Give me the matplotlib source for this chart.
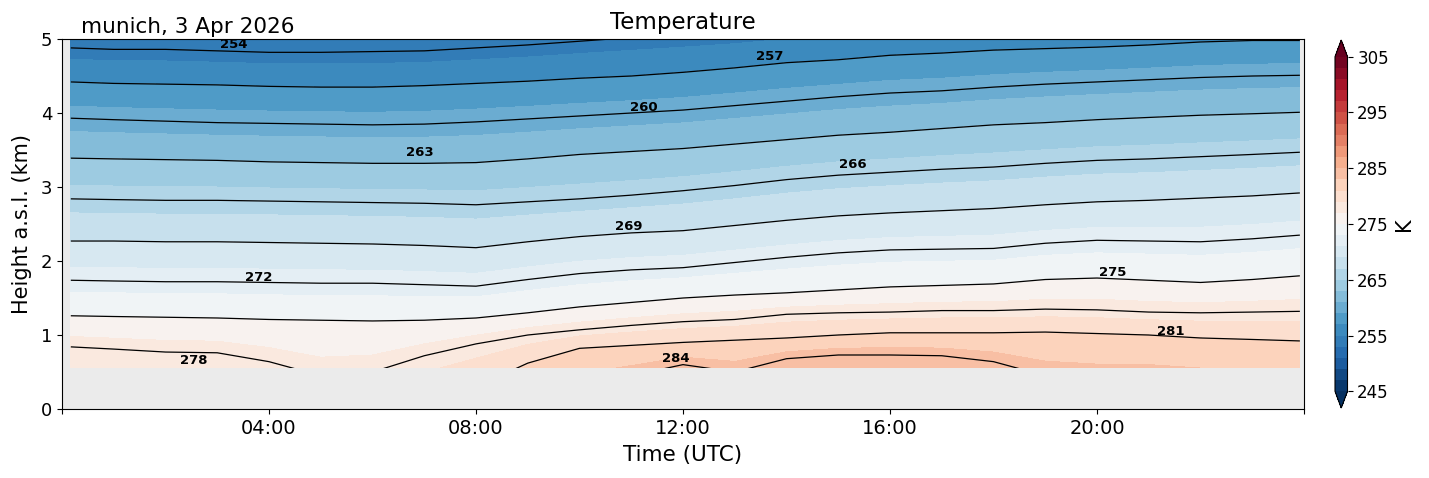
import numpy as np
import matplotlib
matplotlib.use("Agg")
import matplotlib.pyplot as plt
from matplotlib.ticker import FuncFormatter, MultipleLocator

# ---- data -------------------------------------------------------------------
# sample times (hours UTC)
times = [0.17, 1, 2, 3, 4, 5, 6, 7, 8, 9, 10, 11, 12, 13, 14, 15, 16, 17, 18,
         19, 20, 21, 22, 23, 23.92]

# height (km) of each isotherm at the sample times (values outside the
# visible data window are estimates)
h287 = [-1.5, -1.5, -1.5, -1.5, -1.5, -1.5, -1.5, -1.5, -1.5, -0.8, -0.4, -0.1,
        0.05, 0.0, 0.1, 0.15, 0.15, 0.1, 0.0, -0.2, -0.3, -0.3, -0.35, -0.4, -0.4]
h284 = [-0.8, -0.8, -0.8, -0.8, -0.8, -0.8, -0.8, -0.8, -0.6, 0.0, 0.3, 0.45,
        0.6, 0.5, 0.68, 0.73, 0.73, 0.72, 0.64, 0.45, 0.4, 0.4, 0.35, 0.3, 0.3]
h281 = [-0.25, -0.25, -0.25, -0.25, -0.3, -0.35, -0.3, 0.05, 0.3, 0.62, 0.82,
        0.86, 0.9, 0.93, 0.96, 1.0, 1.03, 1.03, 1.03, 1.04, 1.02, 1.0, 0.96,
        0.94, 0.92]
h278 = [0.84, 0.81, 0.77, 0.76, 0.64, 0.45, 0.5, 0.72, 0.88, 1.0, 1.07, 1.13,
        1.18, 1.21, 1.28, 1.3, 1.31, 1.33, 1.33, 1.35, 1.34, 1.31, 1.30, 1.31,
        1.32]
h275 = [1.26, 1.25, 1.24, 1.23, 1.21, 1.20, 1.19, 1.20, 1.23, 1.30, 1.38, 1.44,
        1.50, 1.54, 1.57, 1.61, 1.65, 1.67, 1.69, 1.75, 1.77, 1.74, 1.71, 1.75,
        1.80]
h272 = [1.74, 1.73, 1.72, 1.72, 1.71, 1.70, 1.70, 1.68, 1.66, 1.75, 1.83, 1.88,
        1.91, 1.98, 2.05, 2.11, 2.15, 2.16, 2.17, 2.24, 2.28, 2.27, 2.26, 2.30,
        2.35]
h269 = [2.27, 2.27, 2.26, 2.26, 2.25, 2.24, 2.23, 2.21, 2.18, 2.26, 2.33, 2.38,
        2.41, 2.48, 2.55, 2.61, 2.65, 2.68, 2.71, 2.76, 2.80, 2.82, 2.85, 2.88,
        2.92]
h266 = [2.84, 2.83, 2.82, 2.82, 2.81, 2.80, 2.79, 2.78, 2.76, 2.80, 2.84, 2.89,
        2.95, 3.02, 3.10, 3.16, 3.20, 3.24, 3.27, 3.32, 3.36, 3.38, 3.41, 3.44,
        3.47]
h263 = [3.39, 3.38, 3.37, 3.36, 3.34, 3.33, 3.32, 3.32, 3.33, 3.38, 3.44, 3.48,
        3.52, 3.58, 3.64, 3.70, 3.74, 3.79, 3.84, 3.87, 3.91, 3.94, 3.97, 3.99,
        4.01]
h260 = [3.93, 3.91, 3.89, 3.87, 3.86, 3.85, 3.84, 3.85, 3.88, 3.92, 3.96, 4.00,
        4.04, 4.10, 4.16, 4.22, 4.27, 4.30, 4.35, 4.39, 4.42, 4.45, 4.48, 4.50,
        4.51]
h257 = [4.42, 4.40, 4.39, 4.38, 4.36, 4.35, 4.35, 4.37, 4.40, 4.43, 4.47, 4.50,
        4.55, 4.61, 4.68, 4.72, 4.78, 4.81, 4.85, 4.87, 4.89, 4.92, 4.96, 4.98,
        4.98]
h254 = [4.88, 4.86, 4.86, 4.84, 4.82, 4.82, 4.83, 4.84, 4.88, 4.92, 4.97, 5.02,
        5.06, 5.10, 5.16, 5.22, 5.25, 5.28, 5.30, 5.36, 5.38, 5.40, 5.43, 5.45,
        5.46]
h251 = [5.38, 5.36, 5.36, 5.34, 5.32, 5.32, 5.33, 5.34, 5.38, 5.42, 5.47, 5.52,
        5.56, 5.60, 5.66, 5.72, 5.75, 5.78, 5.80, 5.86, 5.88, 5.90, 5.93, 5.95,
        5.96]

row_temps = [287, 284, 281, 278, 275, 272, 269, 266, 263, 260, 257, 254, 251]
row_heights = [h287, h284, h281, h278, h275, h272, h269, h266, h263, h260,
               h257, h254, h251]

data_bottom_km = 0.55          # lowest retrieved height
fill_levels = np.arange(245, 306, 2)
line_levels = np.arange(254, 285, 3)
cbar_ticks = np.arange(245, 306, 10)

# contour-label centres (time h, height km), as they sit in the reference
label_times = [3.32, 13.68, 11.25, 6.92, 15.28, 10.96, 3.81, 20.31, 2.55,
               21.43, 11.86]
label_heights = [4.92, 4.76, 4.07, 3.46, 3.30, 2.47, 1.78, 1.84, 0.66,
                 1.05, 0.68]

# ---- build the curvilinear grid --------------------------------------------
T = np.asarray(times, dtype=float)
X = np.tile(T, (len(row_temps), 1))
Y = np.array(row_heights, dtype=float)
Z = np.array([np.full(T.size, float(v)) for v in row_temps])

# ---- figure ----------------------------------------------------------------
fig = plt.figure(figsize=(14.29, 4.78), dpi=100)
ax = fig.add_axes([62 / 1429, 69 / 478, 1242 / 1429, 370 / 478])
cax = fig.add_axes([1335 / 1429, 70 / 478, 12.5 / 1429, 368 / 478])

bg = "#ebebeb"
ax.set_facecolor(bg)

cf = ax.contourf(X, Y, Z, levels=fill_levels, cmap="RdBu_r", extend="both",
                 zorder=1)
cs = ax.contour(X, Y, Z, levels=line_levels + 1e-3, colors="k",
                linewidths=0.9, zorder=2)
ax.axhspan(0, data_bottom_km, color=bg, zorder=2.5, lw=0)

ax.set_xlim(0, 24)
ax.set_ylim(0, 5)

label_points = list(zip(label_times, label_heights))
lbls = ax.clabel(cs, manual=label_points, inline=False,
                 fontsize=9.5, fmt=lambda v: f"{v:.0f}")
for t, pt in zip(lbls, label_points):
    t.set_fontweight("bold")
    t.set_rotation(0)
    t.set_position(pt)
    t.set_zorder(4)

ax.xaxis.set_major_locator(MultipleLocator(4))
ax.xaxis.set_major_formatter(
    FuncFormatter(lambda v, p: f"{int(round(v)):02d}:00" if 0 < v < 24 else ""))
ax.yaxis.set_major_locator(MultipleLocator(1))
ax.tick_params(axis="x", labelsize=14)
ax.tick_params(axis="y", labelsize=13)

ax.set_xlabel("Time (UTC)", fontsize=15.5, labelpad=5)
ax.set_ylabel("Height a.s.l. (km)", fontsize=15, labelpad=6)
ax.set_title("Temperature", fontsize=16.5, pad=7)
ax.text(0.015, 1.016, "munich, 3 Apr 2026", transform=ax.transAxes,
        fontsize=15.5, va="baseline", ha="left")

cb = fig.colorbar(cf, cax=cax, ticks=cbar_ticks)
cb.ax.tick_params(labelsize=12)
cb.set_label("K", fontsize=15)

fig.savefig("out.png", dpi=100)
